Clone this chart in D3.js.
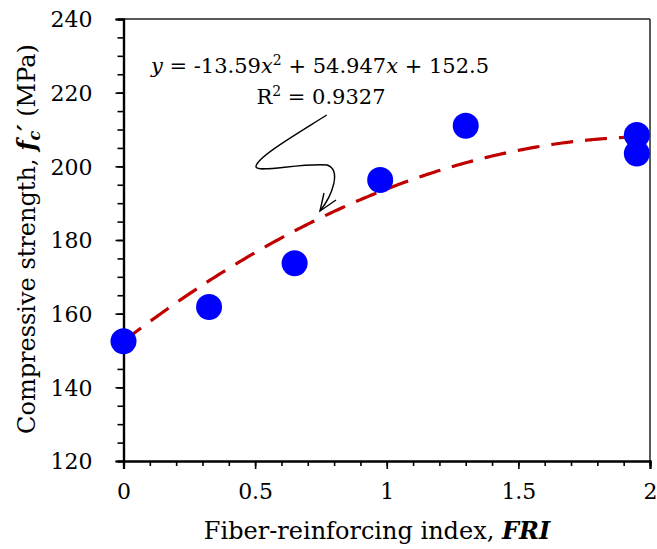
<!DOCTYPE html>
<html><head><meta charset="utf-8">
<script src="https://cdn.jsdelivr.net/npm/d3@7"></script>
<style>body{margin:0;background:#fff}svg{display:block}text{font-family:"DejaVu Serif",serif;fill:#000}</style>
</head><body>
<svg id="c" width="657" height="549"></svg>
<script>
const fri = [0, 0.325, 0.65, 0.975, 1.3, 1.95, 1.95];
const strength = [152.5, 161.8, 173.7, 196.3, 211.0, 208.5, 203.5];
const coef = [-13.59, 54.947, 152.5];
const xTicks = [0, 0.5, 1, 1.5, 2];
const yTicks = [120, 140, 160, 180, 200, 220, 240];

const svg = d3.select("#c");
const L = 123.5, R = 650, T = 19, B = 461;
const x = d3.scaleLinear().domain([0, 2]).range([L, R]);
const y = d3.scaleLinear().domain([120, 240]).range([B, T]);
const fs = 22;
const FF = '"DejaVu Serif",serif';

// frame top/right
svg.append("line").attr("x1", L).attr("x2", R).attr("y1", T).attr("y2", T).attr("stroke", "#222").attr("stroke-width", 1.5);
svg.append("line").attr("x1", R).attr("x2", R).attr("y1", T).attr("y2", B).attr("stroke", "#222").attr("stroke-width", 1.5);

// axes
const xMinor = d3.axisBottom(x).tickValues(d3.range(0, 2.0001, 0.1)).tickSize(5).tickFormat("");
const gxm = svg.append("g").attr("transform", `translate(0,${B})`).call(xMinor);
const xAxis = d3.axisBottom(x).tickValues(xTicks).tickSize(8).tickPadding(14).tickFormat(d => d3.format("")(d));
const gx = svg.append("g").attr("transform", `translate(0,${B})`).call(xAxis);
const yMinor = d3.axisLeft(y).tickValues(d3.range(120, 240.001, 5)).tickSize(6).tickFormat("");
const gym = svg.append("g").attr("transform", `translate(${L},0)`).call(yMinor);
const yAxis = d3.axisLeft(y).tickValues(yTicks).tickSize(8).tickPadding(23);
const gy = svg.append("g").attr("transform", `translate(${L},0)`).call(yAxis);
[gxm, gx, gym, gy].forEach(g => {
  g.selectAll(".domain").attr("stroke", "#000").attr("stroke-width", 2.2);
  g.selectAll(".tick line").attr("stroke", "#000").attr("stroke-width", 1.6);
  g.selectAll("text").attr("font-size", fs).attr("font-family", FF).attr("fill", "#000");
});
gy.selectAll("text").attr("dy", "0.36em");

// trendline
const xs = d3.range(0, 1.9501, 0.01);
const line = d3.line().x(d => x(d)).y(d => y(coef[0]*d*d + coef[1]*d + coef[2])).curve(d3.curveBasis);
svg.append("path").datum(xs).attr("d", line).attr("fill", "none")
  .attr("stroke", "#C00000").attr("stroke-width", 3.2).attr("stroke-dasharray", "22,12");

// points
svg.append("g").selectAll("circle").data(fri.map((f, i) => [f, strength[i]])).join("circle")
  .attr("cx", d => x(d[0])).attr("cy", d => y(d[1])).attr("r", 13).attr("fill", "#0000FF");

// equation
const efs = 21;
const eq = svg.append("text").attr("x", 320).attr("y", 73).attr("text-anchor", "middle").attr("font-size", efs);
eq.append("tspan").attr("font-style", "italic").text("y");
eq.append("tspan").text(" = -13.59");
eq.append("tspan").attr("font-style", "italic").text("x");
eq.append("tspan").attr("font-size", 14).attr("dy", -8).text("2");
eq.append("tspan").attr("dy", 8).text(" + 54.947");
eq.append("tspan").attr("font-style", "italic").text("x");
eq.append("tspan").text(" + 152.5");
const r2 = svg.append("text").attr("x", 321).attr("y", 104).attr("text-anchor", "middle").attr("font-size", efs);
r2.append("tspan").text("R");
r2.append("tspan").attr("font-size", 14).attr("dy", -8).text("2");
r2.append("tspan").attr("dy", 8).text(" = 0.9327");

// callout
svg.append("path").attr("d", "M326.7,115 C300,132 255,158 256,167 C258,173 300,163 327,165 C342,170 332,196 320,211")
  .attr("fill", "none").attr("stroke", "#000").attr("stroke-width", 1.4);
svg.append("path").attr("d", "M324,193 L320,211 L336,200").attr("fill", "none").attr("stroke", "#000").attr("stroke-width", 1.4);

// x title
const xt = svg.append("text").attr("x", 377).attr("y", 539).attr("text-anchor", "middle").attr("font-size", 24);
xt.append("tspan").text("Fiber-reinforcing index, ");
xt.append("tspan").attr("font-weight", "bold").attr("font-style", "italic").text("FRI");

// y title
const yt = svg.append("text").attr("transform", "translate(35,239) rotate(-90)").attr("text-anchor", "middle").attr("font-size", 24);
yt.append("tspan").text("Compressive strength, ");
yt.append("tspan").attr("font-weight", "bold").attr("font-style", "italic").text("f");
yt.append("tspan").attr("font-weight", "bold").attr("font-style", "italic").attr("font-size", 16).attr("dy", 5).text("c");
yt.append("tspan").attr("font-weight", "bold").attr("font-style", "italic").attr("dy", -5).text("′");
yt.append("tspan").text(" (MPa)");
</script>
</body></html>
